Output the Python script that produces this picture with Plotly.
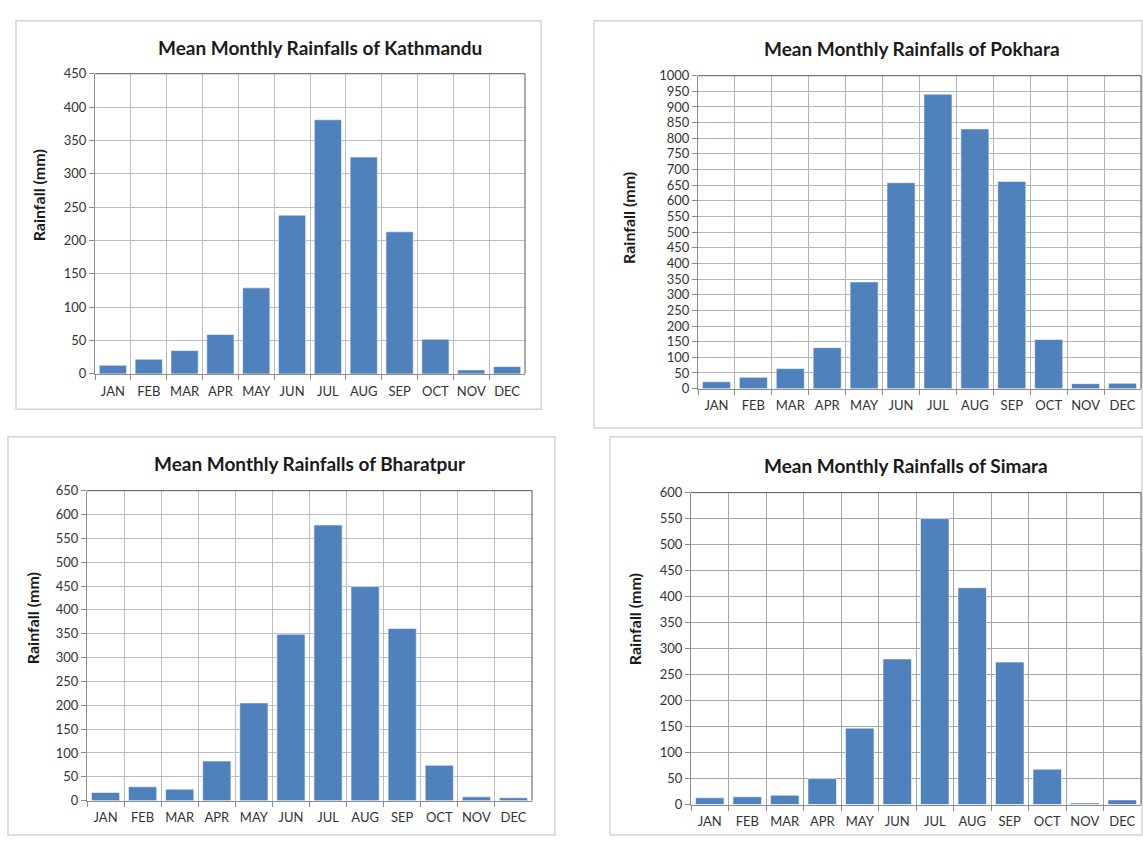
import plotly.graph_objects as go

months = ["JAN", "FEB", "MAR", "APR", "MAY", "JUN", "JUL", "AUG", "SEP", "OCT", "NOV", "DEC"]

kathmandu = [13, 22, 35, 59, 129, 238, 381, 325, 213, 52, 6, 11]
pokhara = [22, 36, 64, 131, 341, 658, 941, 830, 662, 157, 16, 17]
bharatpur = [17, 29, 24, 83, 205, 349, 578, 449, 361, 74, 8, 6]
simara = [13, 15, 18, 50, 147, 280, 550, 417, 274, 68, 3, 9]

stations = ["Kathmandu", "Pokhara", "Bharatpur", "Simara"]
series = [kathmandu, pokhara, bharatpur, simara]
y_max = [450, 1000, 650, 600]

W, H = 1143, 843
BAR = "#4F81BD"
FONT = "Lato, 'Liberation Sans', Arial, sans-serif"

# pixel boxes: plot area (x0, x1, ytop, ybottom), frame (x0, y0, x1, y1), title (x, y), y title (x, y)
panels = [
    dict(plot=(95, 525, 67, 373), frame=(16, 13, 541, 409), title=(320, 40), ytitle=(38, 191),
         grid="#BDBDBD"),
    dict(plot=(698, 1141, 69, 388), frame=(594, 13, 1142, 428), title=(912, 41), ytitle=(629, 214),
         grid="#B4B4B4"),
    dict(plot=(87, 532, 492, 808), frame=(8, 437, 555, 843), title=(310, 464), ytitle=(32, 622),
         grid="#BDBDBD"),
    dict(plot=(691, 1141, 494, 812), frame=(610, 437, 1142, 843), title=(906, 466), ytitle=(634, 623),
         grid="#A6A6A6"),
]

fig = go.Figure()
shapes = []
annotations = []

for i, (name, vals, ymax, p) in enumerate(zip(stations, series, y_max, panels), start=1):
    sfx = "" if i == 1 else str(i)
    fig.add_trace(go.Bar(
        x=months, y=vals, xaxis="x" + sfx, yaxis="y" + sfx,
        marker=dict(color=BAR, line=dict(color="rgba(255,255,255,0.55)", width=1)),
        showlegend=False, hoverinfo="x+y",
    ))
    x0, x1, yt, yb = p["plot"]
    fig.layout["xaxis" + sfx] = dict(
        domain=[x0 / W, x1 / W], anchor="y" + sfx,
        type="category", tickson="boundaries", ticks="outside", ticklen=5,
        tickangle=0, ticklabelstandoff=5,
        tickcolor="#8C8C8C", showgrid=True, gridcolor=p["grid"], gridwidth=1,
        showline=True, linecolor="#8C8C8C", linewidth=1, mirror=False,
        tickfont=dict(family=FONT, size=13, color="#333333"), fixedrange=True,
    )
    fig.layout["yaxis" + sfx] = dict(
        domain=[1 - yb / H, 1 - yt / H], anchor="x" + sfx,
        range=[0, ymax], dtick=50, ticks="outside", ticklen=5, tickcolor="#8C8C8C",
        showgrid=True, gridcolor=p["grid"], gridwidth=1, zeroline=False,
        showline=True, linecolor="#8C8C8C", linewidth=1,
        tickfont=dict(family=FONT, size=13, color="#333333"), fixedrange=True,
    )
    # dark outline on the top and right of the plot area
    shapes.append(dict(type="line", xref="x%s domain" % sfx, yref="y%s domain" % sfx,
                       x0=0, x1=1, y0=1, y1=1, line=dict(color="#555555", width=1)))
    shapes.append(dict(type="line", xref="x%s domain" % sfx, yref="y%s domain" % sfx,
                       x0=1, x1=1, y0=0, y1=1, line=dict(color="#555555", width=1)))
    fx0, fy0, fx1, fy1 = p["frame"]
    shapes.append(dict(type="rect", xref="paper", yref="paper",
                       x0=fx0 / W, x1=fx1 / W, y0=1 - fy1 / H, y1=1 - fy0 / H,
                       line=dict(color="#D4D4D4", width=1.5), layer="below"))
    tx, ty = p["title"]
    annotations.append(dict(text="<b>Mean Monthly Rainfalls of %s</b>" % name,
                            x=tx / W, y=1 - ty / H, xref="paper", yref="paper",
                            showarrow=False, xanchor="center", yanchor="middle",
                            font=dict(family=FONT, size=19, color="#1A1A1A")))
    ax, ay = p["ytitle"]
    annotations.append(dict(text="<b>Rainfall (mm)</b>", x=ax / W, y=1 - ay / H,
                            xref="paper", yref="paper", showarrow=False, textangle=-90,
                            xanchor="center", yanchor="middle",
                            font=dict(family=FONT, size=16, color="#1A1A1A")))

fig.update_layout(
    width=W, height=H, margin=dict(l=0, r=0, t=0, b=0),
    paper_bgcolor="white", plot_bgcolor="white",
    bargap=0.24, shapes=shapes, annotations=annotations,
)

fig.write_html("out.html")
